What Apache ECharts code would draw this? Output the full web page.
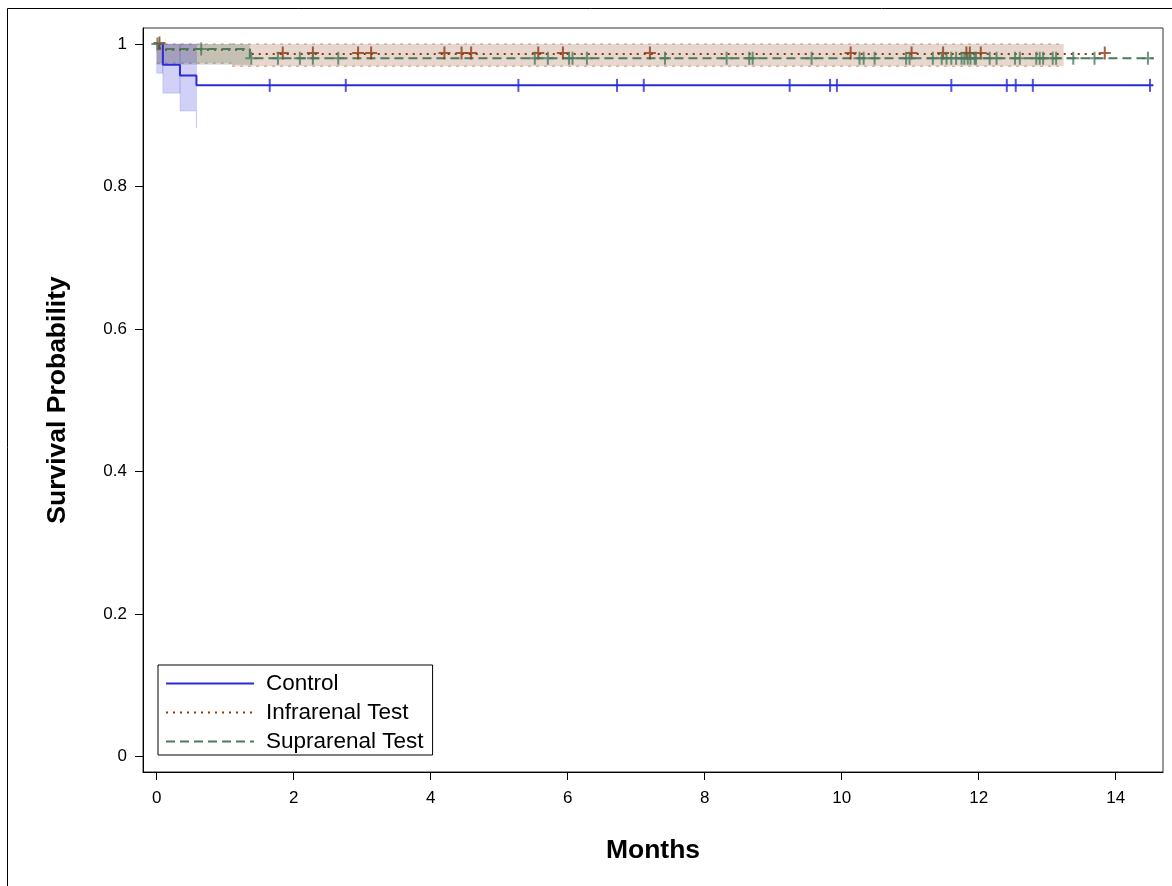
<!DOCTYPE html>
<html>
<head>
<meta charset="utf-8">
<script src="https://cdn.jsdelivr.net/npm/echarts@6/dist/echarts.min.js"></script>
<style>
html,body{margin:0;padding:0;background:#fff;}
#chart{width:1172px;height:886px;}
</style>
</head>
<body>
<div id="chart"></div>
<script>
// ---- Data ----
const groupNames = ['Control', 'Infrarenal Test', 'Suprarenal Test'];
const xTicks = [0, 2, 4, 6, 8, 10, 12, 14];
const yTicks = [0, 0.2, 0.4, 0.6, 0.8, 1];
const yTickLabels = ['0', '0.2', '0.4', '0.6', '0.8', '1'];

// Kaplan-Meier steps: event times and survival after each time
const controlTimes = [0, 0.09, 0.34, 0.58];
const controlSurv  = [1, 0.971, 0.956, 0.942];
const controlEnd = 14.55;
const controlCensor = [1.65, 2.76, 5.28, 6.72, 7.11, 9.24, 9.83, 9.93, 11.60, 12.41, 12.54, 12.79, 14.50];

const infraTimes = [0, 0.05, 1.36];
const infraSurv  = [1, 0.992, 0.986];
const infraEnd = 13.84;
const infraCensor = [0.04, 1.84, 2.28, 2.94, 3.13, 4.20, 4.45, 4.59, 5.57, 5.93, 7.20, 10.13, 11.02, 11.48, 11.82, 11.87, 12.03, 13.84];

const supraTimes = [0, 0.03, 1.36];
const supraSurv  = [1, 0.993, 0.980];
const supraEnd = 14.55;
const supraCensor = [0.01, 0.65, 1.38, 1.77, 2.09, 2.28, 2.65, 5.52, 5.71, 6.02, 6.07, 6.28, 7.42, 8.32, 8.65, 8.70, 9.56,
  10.26, 10.32, 10.48, 10.94, 10.99, 11.33, 11.46, 11.53, 11.60, 11.67, 11.75, 11.79, 11.84, 11.88, 11.94, 11.96,
  12.16, 12.26, 12.53, 12.60, 12.84, 12.89, 12.94, 13.08, 13.13, 13.38, 13.69, 14.47];

// Confidence bands: [startTime, endTime, lower, upper]
const controlBand = [[0, 0.09, 0.959, 1.0], [0.09, 0.34, 0.931, 1.0], [0.34, 0.58, 0.906, 1.0], [0.58, 0.58, 0.882, 0.906]];
const infraBand = [[0, 1.1, 0.973, 1.0], [1.1, 13.24, 0.969, 1.0]];
const supraBand = [[0, 1.36, 0.971, 1.0]];

// ---- Helpers ----
function stepLine(times, surv, end) {
  const d = times.map((t, i) => [t, surv[i]]);
  d.push([end, surv[surv.length - 1]]);
  return d;
}
function survAt(times, surv, t) {
  let s = surv[0];
  for (let i = 0; i < times.length; i++) if (times[i] <= t) s = surv[i];
  return s;
}
function censorPts(times, surv, cens) {
  return cens.map(t => [t, survAt(times, surv, t)]);
}

const FONT = "'Liberation Sans', Arial, sans-serif";
const cBlue = '#2b2bdc', cBrown = '#8c3a12', cGreen = '#4c7a5c';
const plusPath = 'path://M5,0h2v13h-2zM0,5.5h12v2h-12z';
const tickPath = 'path://M0,0h2v13h-2z';

function bandSeries(name, data, fill, stroke, dotted) {
  return {
    type: 'custom', name: name, data: data, z: 1, silent: true,
    encode: { x: [0, 1], y: [2, 3] },
    renderItem: function (params, api) {
      const p0 = api.coord([api.value(0), api.value(3)]);
      const p1 = api.coord([api.value(1), api.value(2)]);
      const children = [{
        type: 'rect',
        shape: { x: p0[0], y: p0[1], width: p1[0] - p0[0], height: p1[1] - p0[1] },
        style: { fill: fill, stroke: dotted ? null : stroke, lineWidth: 1 }
      }];
      if (dotted) {
        children.push({ type: 'line', shape: { x1: p0[0], y1: p0[1], x2: p1[0], y2: p0[1] },
          style: { stroke: stroke, lineWidth: 1.5, lineDash: [3, 5] } });
        children.push({ type: 'line', shape: { x1: p0[0], y1: p1[1], x2: p1[0], y2: p1[1] },
          style: { stroke: stroke, lineWidth: 1.5, lineDash: [3, 5] } });
      }
      return { type: 'group', children: children };
    }
  };
}

const chart = echarts.init(document.getElementById('chart'), null, { renderer: 'canvas' });
chart.setOption({
  animation: false,
  backgroundColor: '#fff',
  textStyle: { fontFamily: FONT },
  graphic: [{
    type: 'rect', z: 100, silent: true,
    shape: { x: 7.5, y: 8.5, width: 1180, height: 900 },
    style: { fill: null, stroke: '#000', lineWidth: 1 }
  }],
  grid: { left: 143, right: 9, top: 28, bottom: 114, show: true, borderColor: '#333', borderWidth: 1, containLabel: false },
  legend: {
    left: 158, top: 665, orient: 'vertical',
    data: groupNames,
    itemWidth: 88, itemHeight: 14, itemGap: 6,
    itemStyle: { opacity: 0 },
    backgroundColor: '#fff', borderColor: '#000', borderWidth: 1,
    padding: [7, 9, 2, 7],
    textStyle: { fontSize: 22.5, color: '#000', fontFamily: FONT, padding: [0, 0, 0, 7] },
    selectedMode: false
  },
  xAxis: {
    type: 'value', min: -0.2, max: 14.69,
    name: 'Months', nameLocation: 'middle', nameGap: 65,
    nameTextStyle: { fontSize: 26.5, fontWeight: 'bold', color: '#000', fontFamily: FONT },
    axisLine: { onZero: false, lineStyle: { color: '#000', width: 1 } },
    axisTick: { show: true, length: 8, customValues: xTicks, lineStyle: { color: '#000' } },
    axisLabel: { customValues: xTicks, fontSize: 17, color: '#000', margin: 18, fontFamily: FONT },
    splitLine: { show: false }
  },
  yAxis: {
    type: 'value', min: -0.0215, max: 1.0225,
    name: 'Survival Probability', nameLocation: 'middle', nameGap: 72,
    nameTextStyle: { fontSize: 26.5, fontWeight: 'bold', color: '#000', fontFamily: FONT },
    axisLine: { onZero: false, lineStyle: { color: '#000', width: 1 } },
    axisTick: { show: true, length: 8, customValues: yTicks, lineStyle: { color: '#000' } },
    axisLabel: {
      customValues: yTicks, fontSize: 17, color: '#000', margin: 16, fontFamily: FONT,
      formatter: function (v) { const i = yTicks.indexOf(v); return i >= 0 ? yTickLabels[i] : ''; }
    },
    splitLine: { show: false }
  },
  series: [
    bandSeries('infraBand', infraBand, 'rgba(165,95,60,0.25)', 'rgba(185,130,105,0.55)', true),
    bandSeries('supraBand', supraBand, 'rgba(70,120,90,0.22)', 'rgba(70,120,90,0.0)', false),
    bandSeries('controlBand', controlBand, 'rgba(45,45,225,0.22)', 'rgba(45,45,225,0.15)', false),
    {
      name: groupNames[0], type: 'line', step: 'end', symbol: 'none', z: 3,
      data: stepLine(controlTimes, controlSurv, controlEnd),
      lineStyle: { color: cBlue, width: 2 }, itemStyle: { color: cBlue }
    },
    {
      name: groupNames[1], type: 'line', step: 'end', symbol: 'none', z: 3,
      data: stepLine(infraTimes, infraSurv, infraEnd),
      lineStyle: { color: cBrown, width: 2, type: [2, 5] }, itemStyle: { color: cBrown }
    },
    {
      name: groupNames[2], type: 'line', step: 'end', symbol: 'none', z: 4,
      data: stepLine(supraTimes, supraSurv, supraEnd),
      lineStyle: { color: cGreen, width: 2, type: [9, 5] }, itemStyle: { color: cGreen }
    },
    {
      name: 'controlCensor', type: 'scatter', z: 5, silent: true,
      symbol: tickPath, symbolSize: [2, 13],
      data: censorPts(controlTimes, controlSurv, controlCensor),
      itemStyle: { color: cBlue }
    },
    {
      name: 'infraCensor', type: 'scatter', z: 5, silent: true,
      symbol: plusPath, symbolSize: [12, 13], symbolOffset: [0, -1],
      data: censorPts(infraTimes, infraSurv, infraCensor),
      itemStyle: { color: cBrown }
    },
    {
      name: 'supraCensor', type: 'scatter', z: 6, silent: true,
      symbol: plusPath, symbolSize: [12, 13],
      data: censorPts(supraTimes, supraSurv, supraCensor),
      itemStyle: { color: cGreen }
    }
  ]
});
</script>
</body>
</html>
